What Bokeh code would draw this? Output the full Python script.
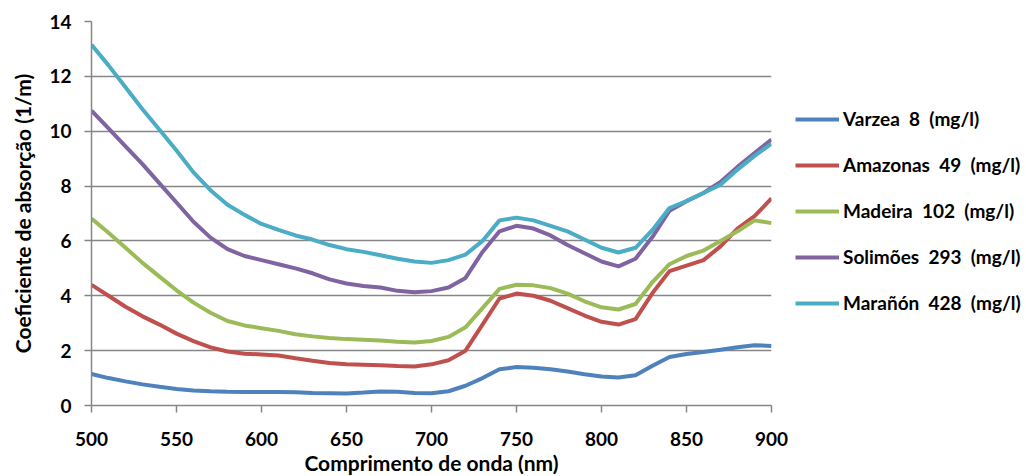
from bokeh.plotting import figure
from bokeh.models import Legend, LegendItem, Range1d, FixedTicker
from bokeh.embed import file_html
from bokeh.resources import INLINE

wavelength = list(range(500, 901, 10))

varzea = [1.15, 1.0, 0.88, 0.77, 0.68, 0.6, 0.55, 0.52, 0.5, 0.49,
          0.49, 0.49, 0.48, 0.46, 0.45, 0.44, 0.47, 0.51, 0.5, 0.46,
          0.45, 0.52, 0.72, 1.0, 1.32, 1.4, 1.38, 1.32, 1.24, 1.14,
          1.06, 1.02, 1.1, 1.45, 1.77, 1.88, 1.95, 2.03, 2.12, 2.2, 2.17]

amazonas = [4.4, 4.0, 3.6, 3.25, 2.95, 2.62, 2.35, 2.12, 1.97, 1.89,
            1.86, 1.82, 1.72, 1.63, 1.55, 1.5, 1.49, 1.47, 1.44, 1.42,
            1.5, 1.65, 2.0, 2.95, 3.9, 4.08, 4.0, 3.82, 3.55, 3.28,
            3.05, 2.95, 3.15, 4.1, 4.9, 5.1, 5.3, 5.8, 6.45, 6.9, 7.55]

madeira = [6.82, 6.3, 5.75, 5.2, 4.7, 4.2, 3.75, 3.38, 3.08, 2.92,
           2.82, 2.72, 2.6, 2.52, 2.46, 2.42, 2.4, 2.37, 2.32, 2.3,
           2.35, 2.5, 2.85, 3.55, 4.25, 4.4, 4.38, 4.28, 4.08, 3.8,
           3.58, 3.5, 3.7, 4.5, 5.15, 5.45, 5.65, 6.0, 6.35, 6.75, 6.65]

solimoes = [10.75, 10.1, 9.45, 8.8, 8.1, 7.4, 6.7, 6.12, 5.7, 5.45,
            5.3, 5.15, 5.0, 4.82, 4.6, 4.45, 4.36, 4.3, 4.18, 4.13,
            4.17, 4.3, 4.65, 5.6, 6.35, 6.55, 6.45, 6.2, 5.85, 5.55,
            5.25, 5.07, 5.35, 6.15, 7.1, 7.45, 7.75, 8.15, 8.7, 9.2, 9.7]

maranon = [13.15, 12.4, 11.6, 10.8, 10.05, 9.3, 8.5, 7.85, 7.32, 6.95,
           6.62, 6.4, 6.2, 6.05, 5.85, 5.7, 5.6, 5.48, 5.35, 5.25,
           5.2, 5.3, 5.5, 6.0, 6.75, 6.85, 6.75, 6.55, 6.35, 6.05,
           5.75, 5.58, 5.75, 6.4, 7.2, 7.45, 7.75, 8.05, 8.6, 9.1, 9.55]

series_names = ["Varzea  8  (mg/l)", "Amazonas  49  (mg/l)", "Madeira  102  (mg/l)",
                "Solimões  293  (mg/l)", "Marañón  428  (mg/l)"]
series_values = [varzea, amazonas, madeira, solimoes, maranon]
colors = ["#4F81BD", "#C0504D", "#9BBB59", "#8064A2", "#4BACC6"]

x_ticks = [500, 550, 600, 650, 700, 750, 800, 850, 900]
y_ticks = [0, 2, 4, 6, 8, 10, 12, 14]

FONT = "Lato"
GRAY = "#868686"

p = figure(frame_width=680, frame_height=384, output_backend="svg",
           toolbar_location=None, x_range=Range1d(500, 900), y_range=Range1d(0, 14),
           min_border_left=91, min_border_right=240, min_border_top=21, min_border_bottom=68)
p.outline_line_color = None
p.background_fill_color = "white"
p.border_fill_color = "white"

p.xgrid.grid_line_color = None
p.ygrid.grid_line_color = GRAY
p.ygrid.grid_line_width = 1.5

p.xaxis.ticker = FixedTicker(ticks=x_ticks)
p.yaxis.ticker = FixedTicker(ticks=y_ticks)

for ax in (p.xaxis[0], p.yaxis[0]):
    ax.axis_line_color = GRAY
    ax.axis_line_width = 1.5
    ax.major_tick_line_color = GRAY
    ax.major_tick_line_width = 1.5
    ax.major_tick_out = 7
    ax.major_tick_in = 0
    ax.minor_tick_line_color = None
    ax.major_label_text_font = FONT
    ax.major_label_text_font_style = "bold"
    ax.major_label_text_font_size = "19px"
    ax.major_label_text_color = "black"
    ax.axis_label_text_font = FONT
    ax.axis_label_text_font_style = "bold"
    ax.axis_label_text_font_size = "21px"
    ax.axis_label_text_color = "black"

p.xaxis.axis_label = "Comprimento de onda (nm)"
p.yaxis.axis_label = "Coeficiente de absorção (1/m)"
p.xaxis.major_label_standoff = 19
p.yaxis.major_label_standoff = 13
p.xaxis.axis_label_standoff = 1
p.yaxis.axis_label_standoff = 11

items = []
for name, vals, c in zip(series_names, series_values, colors):
    r = p.line(wavelength, vals, line_color=c, line_width=4)
    items.append(LegendItem(label=name, renderers=[r]))

legend = Legend(items=items, location=(24, 91))
legend.glyph_width = 44
legend.glyph_height = 20
legend.label_height = 20
legend.spacing = 23
legend.padding = 0
legend.margin = 0
legend.label_standoff = 4
legend.border_line_color = None
legend.background_fill_alpha = 0
legend.label_text_font = FONT
legend.label_text_font_style = "bold"
legend.label_text_font_size = "19px"
legend.label_text_color = "black"
p.add_layout(legend, "right")

open("out.html", "w").write(file_html(p, INLINE))
